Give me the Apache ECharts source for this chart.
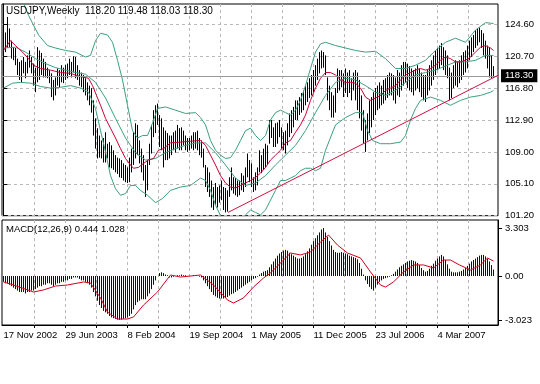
<!DOCTYPE html>
<html><head><meta charset="utf-8">
<script src="https://cdn.jsdelivr.net/npm/echarts/dist/echarts.min.js"></script>
<style>html,body{margin:0;padding:0;background:#fff}#c{width:540px;height:384px}</style>
</head><body><div id="c"></div>
<script>
// ---- data ----
const dateLabels = ['17 Nov 2002','29 Jun 2003','8 Feb 2004','19 Sep 2004','1 May 2005','11 Dec 2005','23 Jul 2006','4 Mar 2007'];
const dateLabelBars = [0,31,62,93,124,155,186,217];
const gridBars = [15.5,31,46.5,62,77.5,93,108.5,124,139.5,155,170.5,186,201.5,217,232.5];
const priceTicks = [101.2,105.1,109.0,112.9,116.8,120.7,124.6];
const macdTicks = [-3.023,0,3.303];
const bidPrice = 118.30;
const titleText = 'USDJPY,Weekly  118.20 119.48 118.03 118.30';
const macdTitle = 'MACD(12,26,9) 0.444 1.028';

const highs = [
123.3,123.6,125.5,124.1,122.6,121.8,121.7,120.4,120.0,120.2,
120.6,120.0,120.8,121.4,120.6,119.8,119.3,121.8,121.4,121.1,
120.4,120.0,119.3,119.0,118.6,117.8,118.1,119.2,119.0,119.6,
119.3,119.6,119.8,120.4,120.0,120.7,120.6,119.6,119.0,118.7,
118.4,118.0,117.5,117.1,116.8,115.3,113.1,111.9,111.0,110.4,
110.7,111.4,110.0,110.2,109.8,109.2,108.6,108.3,108.2,108.0,
107.6,107.4,107.1,108.3,109.4,111.4,112.5,112.3,110.4,109.4,
108.6,107.4,108.0,110.0,112.3,114.1,114.7,114.9,113.5,113.1,
112.0,111.6,111.3,111.0,111.0,111.4,111.6,112.3,111.9,112.0,
111.6,111.0,110.7,110.7,111.0,111.4,111.4,111.6,110.7,110.4,
109.4,107.4,107.1,106.5,105.5,104.7,105.2,104.7,104.9,105.5,
104.7,104.6,104.3,105.9,107.1,105.9,105.8,105.5,105.5,106.4,
106.1,107.1,108.8,108.0,107.6,105.9,106.5,107.1,109.2,108.6,
109.4,110.0,109.8,112.9,112.9,112.0,112.5,112.6,112.9,112.0,
111.4,111.6,112.5,113.7,114.1,114.5,115.3,115.3,115.7,116.2,
116.5,117.1,117.5,118.0,118.4,119.0,119.6,120.4,121.2,121.4,
121.2,120.8,118.1,117.1,116.3,115.9,116.8,119.2,119.0,119.0,
118.6,119.2,118.7,119.0,118.0,118.7,119.0,118.7,117.8,115.9,
114.1,112.9,113.7,115.3,115.7,116.3,116.8,117.1,117.5,117.1,
117.8,118.0,118.4,118.7,118.6,118.4,118.1,119.0,118.7,119.6,
120.0,120.0,119.8,119.5,119.2,119.0,119.2,119.6,119.2,118.7,
118.4,118.4,119.0,119.6,120.2,120.8,121.4,121.7,122.0,122.3,
121.8,121.4,120.8,119.3,118.7,119.6,120.2,120.0,120.2,120.8,
121.2,121.4,122.0,122.6,123.0,123.3,123.9,124.1,124.2,123.9,
123.5,122.6,122.0,121.7,120.8,119.48];
const lows = [
120.2,121.2,121.7,121.8,120.4,120.2,119.6,118.4,117.8,117.5,
118.6,118.0,118.6,119.3,118.6,117.1,116.3,117.5,117.8,118.4,
118.1,118.1,118.0,117.4,115.7,115.3,115.9,117.1,116.9,117.5,
117.4,117.8,118.0,118.4,118.1,118.7,118.0,117.8,117.1,116.9,
116.3,115.9,115.3,114.7,113.8,111.0,109.4,108.2,108.3,108.2,
107.7,107.7,108.2,107.1,107.0,106.8,106.5,106.3,105.9,105.8,
105.5,105.3,105.2,105.3,106.5,107.4,108.2,108.6,107.6,106.5,
105.5,103.5,104.3,107.4,108.8,110.8,111.3,112.3,109.6,109.2,
107.1,108.0,108.0,108.2,108.6,109.2,108.9,109.4,109.2,109.2,
109.8,109.2,109.0,109.2,109.4,109.2,109.4,109.2,108.6,108.3,
107.1,104.7,104.1,103.5,102.2,101.9,102.5,102.2,102.8,103.1,
101.9,101.6,101.7,103.5,104.3,103.9,103.7,103.5,103.7,104.3,
104.1,104.7,105.9,105.3,104.7,104.1,104.3,104.9,106.5,106.4,
106.8,107.1,107.4,110.0,110.7,109.6,109.6,110.0,110.8,109.4,
109.2,108.8,109.8,110.8,111.3,112.0,112.9,112.9,113.5,113.8,
114.1,114.7,115.1,115.6,115.9,116.3,117.1,117.8,118.6,119.2,
119.3,118.4,115.3,114.1,113.2,113.2,113.8,116.2,116.5,116.9,
115.7,116.2,115.7,116.2,115.3,116.5,115.3,114.1,113.1,111.6,
110.0,109.0,110.4,111.3,112.0,112.9,113.5,114.1,114.3,114.7,
114.9,115.3,115.6,115.9,115.9,115.3,114.9,115.9,115.7,116.5,
117.1,117.5,116.8,116.5,116.3,115.9,116.5,116.8,116.3,115.7,
115.3,115.1,115.9,116.5,117.1,117.8,118.4,119.0,119.2,119.6,
119.0,118.4,118.0,115.3,115.6,116.8,117.1,116.9,117.4,117.8,
118.4,118.7,119.2,120.2,120.6,121.2,121.7,122.0,122.4,121.7,
120.8,120.4,119.2,118.1,118.0,118.03];

// moving average (red) [bar, price]
const maLine = [[0,121.4],[3.5,122.6],[6,122.0],[9.5,121.2],[12.5,120.4],[15,119.6],[18.5,119.2],[23.5,119.0],[28.5,118.7],[33.5,118.6],[38.5,118.2],[42.5,118.0],[44.5,117.1],[46.5,115.9],[48.5,114.7],[51,113.1],[53.5,111.9],[56,110.7],[58.5,109.4],[61,108.2],[63.5,107.4],[65,107.0],[67.5,107.1],[70,107.6],[72.5,108.0],[75,108.2],[77.5,109.2],[80,109.4],[83.5,110.1],[88.5,110.2],[93.5,110.3],[98.5,110.4],[101,109.8],[103.5,108.6],[106,107.4],[108.5,106.1],[111,105.2],[113.5,104.7],[116,104.6],[118.5,104.9],[121,105.2],[123.5,105.5],[126,105.9],[128.5,106.4],[131,107.1],[133.5,108.0],[136,108.6],[138.5,109.2],[141,110.1],[143.5,110.4],[146,111.4],[148.5,112.3],[151,113.5],[153.5,115.3],[156,116.8],[158.5,118.0],[161,118.7],[163.5,118.7],[166,118.4],[168.5,117.8],[171,117.5],[173.5,117.5],[176,117.4],[178.5,116.8],[181,115.7],[183.5,115.3],[186,115.6],[188.5,115.9],[191,116.5],[193.5,116.8],[196,117.1],[198.5,117.8],[201,118.4],[203.5,118.7],[206,119.0],[208.5,119.2],[211,119.0],[213.5,119.2],[216,119.6],[218.5,120.2],[221,120.6],[223.5,120.4],[226,120.0],[228.5,120.0],[231,120.2],[233.5,120.6],[236,121.2],[238.5,121.8],[241,122.0],[243.5,121.7],[245,121.4]];
// Bollinger bands (green) [bar, price]
const bbMid = [[0,121.7],[6,121.8],[11,121.2],[16,120.4],[21,119.8],[26,119.3],[31,119.0],[36,118.7],[41,118.5],[46,117.5],[51,115.6],[56,113.1],[61,110.7],[66,108.9],[71,108.0],[76,108.2],[81,108.9],[86,109.4],[91,109.8],[96,110.1],[101,110.1],[106,108.9],[111,107.4],[116,105.8],[121,104.9],[126,105.2],[131,106.1],[136,107.4],[141,108.6],[146,109.8],[151,111.6],[156,113.8],[161,115.9],[166,117.5],[171,118.0],[176,117.8],[181,117.1],[186,116.3],[191,115.9],[196,116.5],[201,117.5],[206,118.4],[211,118.7],[216,119.0],[221,119.5],[226,120.0],[231,120.0],[236,120.2],[241,120.8],[245,120.8]];
const bbUpper = [[8.5,128.1],[12.5,125.7],[17.5,123.3],[22,122.0],[26,121.7],[31,121.4],[36,121.2],[41,120.6],[43.5,120.8],[46,122.6],[48.5,123.5],[52,123.3],[54.5,122.4],[57,120.2],[59.5,117.8],[62,114.7],[64.5,111.6],[67,110.7],[69.5,111.0],[72,111.0],[74.5,112.5],[77,114.3],[81,114.5],[86,114.1],[91,113.7],[96,113.8],[98.5,113.2],[101,112.3],[103.5,110.4],[106,109.2],[108.5,108.6],[111,108.2],[113.5,108.3],[116,109.2],[118.5,110.4],[121,111.6],[123.5,111.9],[126,111.0],[128.5,110.4],[131,111.0],[133.5,112.9],[136,113.8],[138.5,114.1],[141,113.8],[143.5,113.5],[146,114.1],[148.5,115.3],[151,117.1],[153.5,119.2],[156,121.2],[158.5,122.2],[161,122.4],[166,122.0],[171,121.7],[176,121.4],[181,121.2],[186,121.3],[191,120.4],[196,119.2],[201,119.2],[206,119.6],[211,120.2],[216,121.4],[221,122.4],[226,122.9],[231,122.4],[236,123.9],[241,124.8],[245,124.7]];
const bbLower = [[0,116.8],[4.5,117.4],[8.5,117.5],[13.5,117.4],[18.5,117.0],[23.5,116.8],[28.5,116.9],[33.5,117.1],[38.5,116.8],[42.5,116.3],[46,114.3],[48.5,111.6],[51,109.0],[53.5,106.1],[56,104.5],[58.5,103.7],[61,103.9],[63.5,104.9],[66,104.9],[68.5,104.3],[72,103.7],[76,102.8],[79.5,103.3],[83.5,104.3],[88.5,104.7],[93.5,104.9],[98.5,105.8],[101,105.5],[103.5,104.3],[106,102.5],[108.5,101.2],[111,100.0],[113.5,99.4],[116,99.7],[118.5,100.4],[121,101.3],[123.5,101.9],[126,101.6],[128.5,101.3],[131,101.9],[133.5,103.1],[136,104.3],[138.5,105.5],[141,105.5],[143.5,105.8],[146,106.1],[148.5,106.7],[151,107.0],[153.5,107.0],[156,106.7],[158.5,107.0],[161,109.2],[166,112.3],[171,113.2],[176,113.8],[179.5,113.8],[182,111.6],[184.5,110.4],[188.5,110.0],[193.5,110.0],[198.5,110.2],[201,111.0],[203.5,112.9],[206,114.3],[208.5,115.3],[213.5,115.7],[218.5,115.3],[223.5,114.7],[228.5,115.3],[233.5,115.7],[238.5,115.9],[243.5,116.3],[245,116.5]];
// trend line (red) [bar, price]
const trendLine = [[112.25,101.6],[247.25,118.36]];

// MACD histogram, one value per bar
const macdHist = [
-0.4,-0.5,-0.5,-0.6,-0.7,-0.8,-0.9,-1.0,-1.1,-1.1,
-1.1,-1.2,-1.1,-1.1,-1.0,-1.0,-0.9,-0.8,-0.7,-0.7,
-0.6,-0.6,-0.5,-0.5,-0.6,-0.7,-0.6,-0.5,-0.5,-0.4,
-0.4,-0.3,-0.3,-0.2,-0.2,-0.1,-0.1,-0.1,-0.2,-0.3,
-0.3,-0.4,-0.5,-0.6,-0.8,-1.1,-1.4,-1.7,-2.0,-2.2,
-2.4,-2.5,-2.6,-2.75,-2.85,-2.9,-2.95,-3.0,-3.02,-3.0,
-2.95,-2.9,-2.85,-2.75,-2.6,-2.3,-2.0,-1.8,-1.7,-1.6,
-1.6,-1.6,-1.4,-1.2,-0.9,-0.6,-0.3,0.0,0.2,0.25,
0.2,0.1,0.05,-0.1,-0.1,-0.05,0.0,0.05,0.05,0.1,
0.05,0.05,0.0,0.0,0.0,0.05,0.05,0.0,-0.05,-0.1,
-0.3,-0.5,-0.7,-0.9,-1.1,-1.3,-1.4,-1.5,-1.55,-1.55,
-1.55,-1.5,-1.45,-1.35,-1.25,-1.2,-1.1,-1.0,-0.9,-0.8,
-0.7,-0.6,-0.5,-0.4,-0.3,-0.2,-0.15,-0.05,0.1,0.2,
0.3,0.35,0.4,0.6,0.8,1.0,1.2,1.4,1.55,1.65,
1.75,1.8,1.75,1.6,1.5,1.4,1.3,1.2,1.2,1.25,
1.35,1.5,1.7,1.9,2.15,2.4,2.6,2.8,3.0,3.2,
3.3,3.0,2.7,2.4,2.1,1.8,1.65,1.6,1.6,1.65,
1.6,1.55,1.5,1.4,1.35,1.3,1.25,1.15,0.9,0.5,
0.1,-0.3,-0.55,-0.75,-0.9,-1.0,-0.8,-0.6,-0.4,-0.3,
-0.2,-0.15,-0.1,-0.05,0.05,0.15,0.3,0.45,0.6,0.7,
0.8,0.9,1.0,1.05,1.1,1.05,1.0,0.9,0.75,0.55,
0.4,0.3,0.35,0.5,0.7,0.85,1.05,1.2,1.35,1.45,
1.35,1.1,0.8,0.5,0.3,0.25,0.25,0.25,0.3,0.35,
0.45,0.55,0.7,0.85,1.0,1.1,1.2,1.3,1.4,1.45,
1.45,1.35,1.2,1.0,0.75,0.444];
// MACD signal line (red) [bar, value]
const macdSignal = [[0,-0.41],[5,-0.62],[15,-1.1],[20,-0.96],[26,-0.69],[32,-0.62],[40,-0.41],[43.5,-0.48],[48.5,-1.51],[52,-2.48],[57,-2.96],[62,-2.96],[65,-2.82],[70,-2.0],[77,-1.1],[83.5,0.07],[88.5,-0.07],[98.5,0.07],[105,-0.62],[112,-1.65],[115,-1.86],[120,-1.51],[125,-0.76],[130,-0.14],[133.5,0.21],[143.5,1.58],[148.5,1.45],[153.5,1.65],[158.5,2.34],[162.5,2.82],[167,2.13],[172,1.58],[178.5,1.24],[183.5,0.28],[188.5,-0.62],[191,-0.76],[195,-0.41],[200,0.28],[205,0.76],[210,0.76],[215,0.55],[220,1.1],[223.5,1.1],[228,0.76],[233.5,0.41],[238.5,0.76],[242,1.24],[245,1.028]];

// ---- chart ----
const FONT = '"Liberation Sans", Arial, sans-serif';
const GRIDC = '#b8b8b8';
const GREEN = '#3c9f80';
const RED = '#cc0033';
const barData = highs.map((h, i) => [i, h, lows[i]]);
const histData = macdHist.map((v, i) => [i, v]);

const chart = echarts.init(document.getElementById('c'), null, {renderer: 'canvas'});
const lineS = (data, color, z, extra) => Object.assign({
  type: 'line', data, xAxisIndex: 0, yAxisIndex: 0, symbol: 'none', showSymbol: false,
  lineStyle: {color, width: 1}, itemStyle: {color}, silent: true, z, clip: true
}, extra || {});

chart.setOption({
  animation: false,
  backgroundColor: '#fff',
  textStyle: {fontFamily: FONT},
  grid: [
    {left: 2, width: 496, top: 4, height: 211.7, show: true, borderColor: '#000', borderWidth: 1, backgroundColor: '#fff'},
    {left: 2, width: 496, top: 220, height: 105, show: true, borderColor: '#000', borderWidth: 1, backgroundColor: '#fff'}
  ],
  xAxis: [
    {gridIndex: 0, type: 'value', min: -0.75, max: 247.25,
     axisLine: {show: false}, axisTick: {show: false, customValues: gridBars}, axisLabel: {show: false},
     splitLine: {show: true, lineStyle: {color: GRIDC, type: [3, 3], width: 1}}},
    {gridIndex: 1, type: 'value', min: -0.75, max: 247.25,
     axisLine: {show: true, onZero: false, lineStyle: {color: '#000'}},
     axisTick: {show: true, customValues: gridBars, length: 3, lineStyle: {color: '#000'}},
     axisLabel: {customValues: dateLabelBars, formatter: v => dateLabels[dateLabelBars.indexOf(v)] || '',
       align: 'left', margin: 5, fontSize: 9.5, color: '#000', fontFamily: FONT},
     splitLine: {show: true, lineStyle: {color: GRIDC, type: [3, 3], width: 1}}}
  ],
  yAxis: [
    {gridIndex: 0, type: 'value', position: 'right', min: 101.2, max: 127.08,
     axisLine: {show: true, lineStyle: {color: '#000'}},
     axisTick: {show: true, customValues: priceTicks, length: 4, lineStyle: {color: '#000'}},
     axisLabel: {customValues: priceTicks, formatter: v => v.toFixed(2), margin: 7, fontSize: 9.5, color: '#000', fontFamily: FONT},
     splitLine: {show: true, lineStyle: {color: GRIDC, type: [3, 3], width: 1}}},
    {gridIndex: 1, type: 'value', position: 'right', min: -3.372, max: 3.854,
     axisLine: {show: true, onZero: false, lineStyle: {color: '#000'}},
     axisTick: {show: true, customValues: macdTicks, length: 4, lineStyle: {color: '#000'}},
     axisLabel: {customValues: macdTicks, formatter: v => (v === 0 ? '0.00' : v.toFixed(3)), margin: 7, fontSize: 9.5, color: '#000', fontFamily: FONT},
     splitLine: {show: false}}
  ],
  series: [
    {type: 'custom', xAxisIndex: 0, yAxisIndex: 0, data: barData, encode: {x: 0, y: [1, 2]}, silent: true, z: 2,
     renderItem: (params, api) => {
       const a = api.coord([api.value(0), api.value(1)]);
       const b = api.coord([api.value(0), api.value(2)]);
       return {type: 'line', shape: {x1: a[0], y1: a[1], x2: b[0], y2: b[1]}, style: {stroke: '#000', lineWidth: 1}};
     }},
    lineS(bbUpper, GREEN, 3),
    lineS(bbMid, GREEN, 3),
    lineS(bbLower, GREEN, 3),
    lineS(maLine, RED, 4, {markLine: {silent: true, symbol: ['none', 'none'], animation: false,
      lineStyle: {color: '#999', type: 'solid', width: 1},
      label: {show: true, position: 'end', formatter: bidPrice.toFixed(2), color: '#fff', backgroundColor: '#000',
        padding: [2, 4, 1, 4], fontSize: 9.5, distance: 3, fontFamily: FONT},
      data: [{yAxis: bidPrice}]}}),
    lineS(trendLine, '#d01040', 5),
    {type: 'custom', xAxisIndex: 1, yAxisIndex: 1, data: histData, encode: {x: 0, y: 1}, silent: true, z: 2,
     renderItem: (params, api) => {
       const a = api.coord([api.value(0), 0]);
       const b = api.coord([api.value(0), api.value(1)]);
       return {type: 'line', shape: {x1: a[0], y1: a[1], x2: b[0], y2: b[1]}, style: {stroke: '#000080', lineWidth: 1}};
     }},
    {type: 'line', data: macdSignal, xAxisIndex: 1, yAxisIndex: 1, symbol: 'none', showSymbol: false, silent: true, z: 4,
     lineStyle: {color: '#d00020', width: 1}}
  ],
  graphic: [
    {type: 'text', left: 6, top: 6, z: 10, silent: true, style: {text: titleText, fill: '#000', font: '10px ' + FONT}},
    {type: 'text', left: 6, top: 224.5, z: 10, silent: true, style: {text: macdTitle, fill: '#000', font: '9.5px ' + FONT}}
  ]
});
</script>
</body></html>
